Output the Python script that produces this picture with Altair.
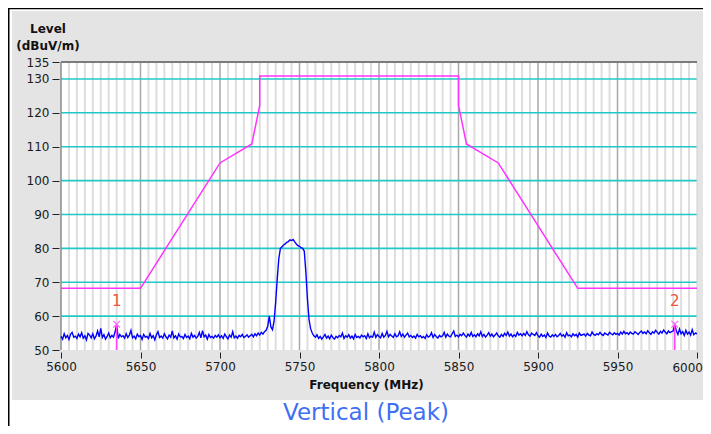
import altair as alt
import pandas as pd

# ---------------- data ----------------
trace_freq = list(range(5600, 6001))  # 1 MHz steps
trace_level = [
    54.0, 53.2, 54.8, 53.6, 54.3, 53.1, 54.6, 55.2, 53.8, 54.1,
    53.4, 54.7, 53.9, 55.1, 53.5, 54.2, 53.0, 54.9, 54.4, 53.6,
    54.8, 53.3, 54.1, 55.6, 53.9, 56.4, 53.7, 54.5, 53.2, 54.0,
    55.0, 53.6, 54.3, 53.8, 55.3, 57.4, 53.4, 54.6, 53.9, 54.2,
    53.5, 54.8, 53.7, 54.4, 55.8, 53.6, 54.1, 53.3, 54.7, 53.9,
    54.3, 53.1, 54.6, 53.8, 54.0, 53.4, 54.9, 53.6, 54.2, 53.0,
    54.5, 55.4, 53.7, 54.1, 53.5, 54.8, 53.9, 53.3, 54.4, 53.8,
    55.6, 53.6, 54.2, 53.2, 54.7, 53.9, 54.0, 53.4, 54.6, 53.7,
    54.1, 53.3, 54.9, 53.8, 54.3, 53.5, 54.0, 55.2, 53.6, 55.7,
    53.9, 54.4, 53.2, 54.6, 53.7, 54.0, 53.5, 54.3, 53.8, 54.5,
    53.6, 54.2, 53.4, 54.7, 53.9, 53.3, 54.4, 53.8, 55.4, 53.6,
    54.1, 53.5, 54.3, 53.9, 54.6, 53.7, 54.0, 54.5, 53.8, 54.2,
    54.6, 53.9, 54.8, 54.2, 55.0, 54.4, 55.2, 54.7, 55.4, 55.8,
    57.0, 60.0, 56.8, 56.0, 58.5, 64.0, 71.0, 77.0, 80.0, 80.5,
    81.0, 81.3, 81.8, 82.0, 82.5, 82.3, 82.6, 81.9, 81.3, 80.8,
    80.6, 80.2, 80.0, 79.2, 73.0, 65.0, 59.0, 56.3, 55.0, 54.2,
    53.8, 54.5, 53.4, 54.0, 53.2, 53.9, 54.6, 53.5, 54.1, 53.3,
    54.4, 53.7, 53.2, 54.0, 53.6, 54.3, 53.9, 55.0, 53.4, 54.2,
    53.8, 54.5, 53.5, 54.1, 53.3, 54.6, 53.7, 54.0, 53.6, 54.4,
    53.9, 54.2, 53.4, 54.8, 53.6, 54.1, 53.8, 55.3, 53.7, 54.5,
    54.0, 53.6, 54.9, 53.8, 54.3, 55.5, 53.9, 54.6, 54.1, 53.7,
    54.8, 53.9, 54.2, 55.4, 54.0, 54.7, 53.8, 54.4, 55.0, 53.9,
    54.3, 53.7, 54.1, 53.5, 54.6, 53.9, 54.2, 53.6, 54.0, 53.4,
    54.5, 53.8, 54.1, 55.1, 53.7, 54.6, 54.0, 53.5, 54.3, 53.9,
    54.2, 55.2, 53.8, 54.7, 54.1, 53.9, 54.8, 55.6, 54.0, 54.4,
    53.9, 54.6, 54.2, 55.0, 54.3, 53.8, 54.7, 54.1, 55.2, 54.0,
    54.5, 53.9, 54.8, 54.2, 55.4, 54.0, 54.6, 53.8, 54.4, 55.1,
    54.1, 54.7, 53.9, 54.4, 55.0, 54.2, 53.8, 54.6, 54.0, 54.9,
    54.3, 55.3, 54.1, 54.7, 53.9, 54.5, 54.0, 55.2, 54.4, 54.8,
    54.2, 54.9, 54.3, 55.4, 54.5, 54.1, 55.0, 54.6, 54.3, 55.1,
    54.2, 53.8, 54.7, 54.0, 54.4, 53.7, 55.0, 54.1, 53.8, 54.5,
    54.0, 54.6, 53.9, 54.3, 54.9, 54.1, 54.5, 53.8, 55.1, 54.2,
    54.4, 53.9, 54.8, 54.2, 54.6, 53.8, 55.0, 54.3, 54.5, 54.7,
    54.1, 54.9, 54.4, 54.2, 55.3, 54.6, 54.3, 54.8, 54.5, 55.2,
    54.6, 54.3, 55.0, 54.7, 54.4, 55.2, 54.8, 54.5, 55.1, 54.6,
    54.9, 54.4, 55.3, 54.7, 55.5, 54.8, 55.1, 54.6, 55.3, 54.9,
    54.7, 55.4, 55.0, 54.6, 55.2, 55.6, 54.9, 55.3, 54.8, 55.7,
    55.1, 54.6, 55.4, 55.0, 55.8, 55.2, 54.7, 55.5, 55.0, 55.9,
    55.3, 54.8, 55.6, 55.1, 55.4, 55.6, 57.4, 55.7, 54.6, 56.2,
    54.8, 55.4, 54.3, 55.8, 54.7, 55.3, 54.4, 56.0, 54.5, 55.0,
    54.8,
]

limit_freq = [5600, 5650, 5700, 5720, 5725, 5725, 5850, 5850, 5855, 5875, 5925, 6000]
limit_level = [68.2, 68.2, 105.2, 110.8, 122.2, 130.9, 130.9, 122.2, 110.8, 105.2, 68.2, 68.2]

marker_freq = [5635, 5986]
marker_level = [57.6, 57.6]
marker_text = ["1", "2"]
marker_text_level = [64.4, 64.4]

x_ticks = [5600, 5650, 5700, 5750, 5800, 5850, 5900, 5950, 6000]
last_x_label = ["6000"]
y_ticks = [50, 60, 70, 80, 90, 100, 110, 120, 130, 135]
h_grid = [60, 70, 80, 90, 100, 110, 120, 130]
major_grid = [5650, 5700, 5750, 5800, 5850, 5900, 5950]
minor_grid = [f for f in range(5600, 6001, 5) if f % 50 != 0]

# ---------------- frames ----------------
trace_df = pd.DataFrame({"freq": trace_freq, "level": trace_level})
limit_df = pd.DataFrame({"freq": limit_freq, "level": limit_level, "idx": list(range(len(limit_freq)))})
marker_df = pd.DataFrame({"freq": marker_freq, "level": marker_level, "base": [50] * 2,
                          "label": marker_text, "tlevel": marker_text_level})
last_df = pd.DataFrame({"freq": [6000], "label": last_x_label})
one = alt.Data(values=[{"a": 1}])

W, H = 636, 288
xs = alt.Scale(domain=[5600, 6000], nice=False, zero=False)
ys = alt.Scale(domain=[50, 135], nice=False, zero=False)
FONT = "DejaVu Sans"

x_axis = alt.Axis(
    values=x_ticks, format="d", grid=False, domain=False, tickSize=6, tickColor="#222",
    tickWidth=1, offset=2, labelFont=FONT, labelFontSize=12, labelColor="#1a1a1a",
    labelPadding=3, labelFlush=False, labelOverlap=False,
    labelExpr="datum.value == 6000 ? '' : datum.label",
    title="Frequency (MHz)", titleFont=FONT, titleFontSize=12, titleFontWeight="bold",
    titleColor="#111", titleX=305, titleY=36, titleBaseline="alphabetic",
    titleAlign="center", zindex=1)
y_axis = alt.Axis(
    values=y_ticks, grid=False, domain=False, tickSize=7, tickColor="#222",
    tickWidth=1, offset=2, labelFont=FONT, labelFontSize=12, labelColor="#1a1a1a",
    labelPadding=3, labelOverlap=False, labelFlush=False,
    title=["Level", "(dBuV/m)"], titleFont=FONT, titleFontSize=12,
    titleFontWeight="bold", titleColor="#111", titleAngle=0, titleX=-11.5,
    titleY=-30, titleAlign="center", titleBaseline="alphabetic",
    titleLineHeight=17, zindex=1)

X = lambda f="freq": alt.X(f"{f}:Q", scale=xs, axis=x_axis)
Y = lambda f="level": alt.Y(f"{f}:Q", scale=ys, axis=y_axis)

bg = alt.Chart(one).mark_rect(color="#e4e4e4").encode(
    x=alt.value(-49), x2=alt.value(650), y=alt.value(-51), y2=alt.value(338))
plotbg = alt.Chart(one).mark_rect(color="white").encode(
    x=alt.value(0), x2=alt.value(W), y=alt.value(0), y2=alt.value(H))

minor = alt.Chart(pd.DataFrame({"freq": minor_grid})).mark_rule(
    color="#dddddd", strokeWidth=2).encode(x=X())
major = alt.Chart(pd.DataFrame({"freq": major_grid})).mark_rule(
    color="#a8a8a8", strokeWidth=1.5).encode(x=X())
hgrid = alt.Chart(pd.DataFrame({"level": h_grid})).mark_rule(
    color="#22c8c8", strokeWidth=1.6).encode(y=Y())

left_border = alt.Chart(pd.DataFrame({"freq": [5600]})).mark_rule(
    color="#8c8c8c", strokeWidth=1.5).encode(x=X())
right_border = alt.Chart(pd.DataFrame({"freq": [6000]})).mark_rule(
    color="#cfcfcf", strokeWidth=1).encode(x=X())
top_border = alt.Chart(pd.DataFrame({"level": [135]})).mark_rule(
    color="#7c7c7c", strokeWidth=2).encode(y=Y())

limit = alt.Chart(limit_df).mark_line(color="#ff33ff", strokeWidth=1.5).encode(
    x=X(), y=Y(), order=alt.Order("idx:Q"))

trace = alt.Chart(trace_df).mark_line(color="#0000ff", strokeWidth=1.4).encode(
    x=X(), y=Y())

mk_line = alt.Chart(marker_df).mark_rule(color="#ff44ff", strokeWidth=1.5).encode(
    x=X(), y=Y(), y2="base:Q")
mk_pt = alt.Chart(marker_df).mark_point(
    shape="M-1,-1L1,1M1,-1L-1,1", size=45, filled=False, color="#ff66ff",
    strokeWidth=1.2, opacity=1).encode(x=X(), y=Y())
mk_txt = alt.Chart(marker_df).mark_text(
    color="#f2553a", fontSize=15, font=FONT, baseline="middle", align="center").encode(
    x=X(), y=Y("tlevel"), text="label:N")

last_lbl = alt.Chart(last_df).mark_text(
    font=FONT, fontSize=12, color="#1a1a1a", align="right", baseline="top", dx=6).encode(
    x=X(), y=alt.value(H + 13), text="label:N")

frame_v = alt.Chart(one).mark_rule(color="black", strokeWidth=2).encode(
    x=alt.value(-52.5), y=alt.value(-60), y2=alt.value(400))
frame_h = alt.Chart(one).mark_rule(color="black", strokeWidth=1.5).encode(
    x=alt.value(-53), x2=alt.value(660), y=alt.value(-53.5))

title = alt.Chart(one).mark_text(
    text="Vertical (Peak)", font=FONT, fontSize=23, color="#3f6ff2",
    align="center", baseline="alphabetic").encode(x=alt.value(305), y=alt.value(358))

chart = alt.layer(
    bg, plotbg, minor, major, hgrid, left_border, right_border, top_border,
    limit, trace, mk_line, mk_pt, mk_txt, last_lbl, frame_v, frame_h, title
).properties(
    width=W, height=H,
    padding={"left": 53, "top": 54, "right": 6, "bottom": 76},
    autosize=alt.AutoSizeParams(type="none"),
    background="white",
).configure_view(stroke=None)

chart.save("out.html", embed_options={"renderer": "svg", "actions": False})
